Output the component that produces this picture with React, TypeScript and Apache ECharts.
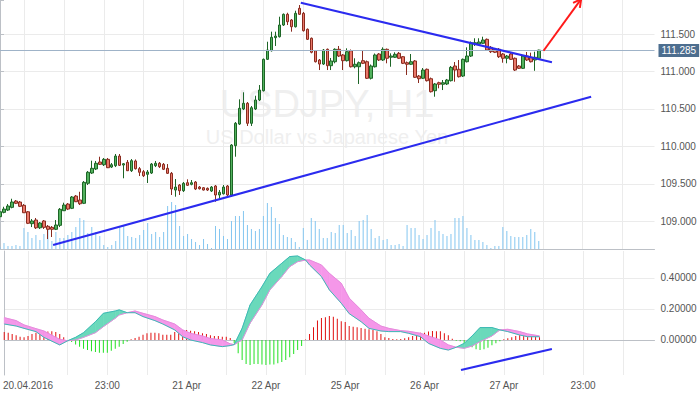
import React, { useEffect, useRef } from 'react';
import * as echarts from 'echarts';

// ---------- data ----------
const TOTAL_SLOTS = 165; // 136 candles + empty space on the right
const candleOpen = [
  109.061,109.119,109.150,109.186,109.270,109.257,109.213,109.127,108.968,109.017,
  108.913,109.004,108.933,108.919,108.893,108.946,109.141,109.230,109.173,109.337,
  109.284,109.240,109.507,109.644,109.698,109.791,109.755,109.827,109.724,109.742,
  109.871,109.751,109.787,109.675,109.805,109.702,109.662,109.627,109.644,109.742,
  109.774,109.760,109.707,109.640,109.417,109.484,109.408,109.515,109.493,109.524,
  109.457,109.448,109.440,109.404,109.471,109.351,109.367,109.471,109.351,110.009,
  110.298,110.499,110.575,110.308,110.499,110.619,110.743,111.162,111.277,111.451,
  111.464,111.620,111.763,111.687,111.597,111.843,111.776,111.563,111.443,111.277,
  111.153,111.099,111.296,111.077,111.130,111.296,111.220,111.144,111.277,111.063,
  111.063,111.144,111.130,110.909,111.063,111.233,111.153,111.296,111.190,111.189,
  111.242,111.197,111.117,111.096,111.140,110.939,110.909,111.029,110.903,110.743,
  110.850,110.829,110.833,110.877,111.073,111.029,110.939,111.130,111.206,111.367,
  111.367,111.376,111.429,111.322,111.296,111.296,111.233,111.176,111.233,111.176,
  111.073,111.042,111.206,111.189,111.153,111.176
];
const candleClose = [
  109.127,109.163,109.204,109.257,109.240,109.200,109.114,108.973,109.004,108.913,
  108.977,108.919,108.893,108.893,108.950,109.160,109.217,109.163,109.324,109.261,
  109.234,109.520,109.654,109.707,109.774,109.760,109.827,109.715,109.755,109.871,
  109.747,109.768,109.675,109.809,109.702,109.654,109.608,109.658,109.764,109.774,
  109.729,109.694,109.640,109.431,109.457,109.408,109.507,109.480,109.515,109.431,
  109.435,109.417,109.417,109.457,109.351,109.387,109.457,109.351,110.018,110.308,
  110.508,110.575,110.308,110.516,110.619,110.752,111.162,111.286,111.456,111.473,
  111.620,111.763,111.664,111.597,111.776,111.763,111.544,111.429,111.256,111.130,
  111.099,111.286,111.077,111.140,111.296,111.206,111.144,111.264,111.063,111.096,
  111.117,111.109,110.909,111.073,111.220,111.153,111.296,111.176,111.206,111.229,
  111.176,111.109,111.096,111.130,110.922,110.903,111.019,110.877,110.730,110.833,
  110.829,110.850,110.886,111.055,111.019,110.930,111.162,111.206,111.384,111.384,
  111.393,111.420,111.286,111.264,111.256,111.197,111.176,111.206,111.162,111.019,
  111.042,111.206,111.153,111.130,111.189,111.285
];
const candleLow = [
  109.030,109.106,109.137,109.173,109.230,109.190,109.110,108.963,108.923,108.897,
  108.897,108.897,108.763,108.790,108.883,108.923,109.137,109.150,109.163,109.257,
  109.217,109.230,109.484,109.631,109.684,109.751,109.738,109.711,109.711,109.724,
  109.738,109.574,109.671,109.658,109.691,109.604,109.591,109.511,109.631,109.724,
  109.711,109.684,109.631,109.351,109.328,109.351,109.391,109.471,109.480,109.417,
  109.424,109.411,109.404,109.391,109.261,109.300,109.358,109.337,109.324,109.862,
  110.285,110.485,110.272,110.272,110.485,110.605,110.732,111.153,111.266,111.340,
  111.453,111.607,111.620,111.531,111.587,111.754,111.533,111.420,111.242,111.120,
  111.019,111.086,111.019,111.019,111.109,111.193,111.019,111.133,111.053,111.042,
  110.833,111.099,110.899,110.893,111.053,111.140,111.140,111.109,111.063,111.180,
  111.166,111.099,110.953,111.086,110.913,110.846,110.899,110.866,110.719,110.663,
  110.775,110.752,110.819,110.866,110.863,110.919,110.926,111.120,111.193,111.340,
  111.353,111.367,111.273,111.246,111.246,111.180,111.117,111.109,111.153,111.006,
  111.033,111.033,111.140,111.120,111.009,111.166
];
const candleHigh = [
  109.163,109.194,109.230,109.301,109.284,109.270,109.230,109.137,109.030,109.044,
  108.990,109.017,108.950,108.937,109.017,109.177,109.248,109.244,109.337,109.351,
  109.394,109.537,109.671,109.809,109.805,109.862,109.845,109.845,109.778,109.898,
  109.898,109.778,109.818,109.831,109.825,109.724,109.684,109.684,109.778,109.805,
  109.791,109.778,109.764,109.658,109.564,109.497,109.524,109.560,109.551,109.537,
  109.471,109.457,109.451,109.471,109.484,109.417,109.484,109.484,110.031,110.325,
  110.628,110.722,110.592,110.539,110.676,110.819,111.173,111.397,111.531,111.531,
  111.731,111.774,111.784,111.700,111.811,111.887,111.794,111.574,111.453,111.286,
  111.166,111.300,111.306,111.180,111.309,111.340,111.233,111.309,111.293,111.176,
  111.133,111.277,111.146,111.093,111.240,111.246,111.322,111.306,111.242,111.256,
  111.260,111.206,111.133,111.233,111.153,110.953,111.046,111.039,110.919,110.846,
  110.863,110.886,110.900,111.073,111.126,111.153,111.173,111.322,111.400,111.443,
  111.443,111.464,111.440,111.340,111.313,111.313,111.246,111.220,111.246,111.186,
  111.086,111.220,111.260,111.251,111.264,111.290
];
const volume = [
  2,6,3,3,4,3,21,17,11,14,
  9,15,23,8,17,11,11,14,17,22,
  31,29,16,22,17,13,4,2,4,8,
  22,23,13,12,11,14,19,26,15,17,
  12,17,43,47,44,23,13,15,10,7,
  4,10,5,1,23,20,13,10,28,33,
  33,38,24,20,18,20,33,46,42,31,
  25,14,12,11,7,2,21,9,31,28,
  20,11,11,17,16,24,24,16,19,13,
  28,29,34,20,11,13,9,10,4,4,
  5,3,24,21,21,14,10,14,21,29,
  18,15,13,15,31,31,33,21,14,9,
  9,7,4,1,3,3,22,18,13,12,
  12,12,14,20,17,8
];
const macdHist = [
  0.052,0.047,0.039,0.030,0.021,0.017,0.026,0.039,0.047,0.052,
  0.054,0.054,0.056,0.052,0.039,0.017,-0.005,-0.013,-0.030,-0.043,
  -0.056,-0.065,-0.073,-0.077,-0.082,-0.082,-0.082,-0.069,-0.056,-0.043,
  -0.026,-0.011,0.005,0.013,0.021,0.034,0.043,0.047,0.047,0.043,
  0.034,0.034,0.034,0.052,0.060,0.065,0.065,0.060,0.056,0.052,
  0.043,0.039,0.030,0.026,0.026,0.021,0.021,0.013,-0.021,-0.086,
  -0.129,-0.155,-0.161,-0.155,-0.155,-0.159,-0.161,-0.159,-0.159,-0.150,
  -0.142,-0.129,-0.112,-0.090,-0.065,-0.039,0.003,0.039,0.082,0.125,
  0.142,0.146,0.155,0.150,0.137,0.121,0.116,0.090,0.086,0.082,
  0.077,0.073,0.069,0.065,0.056,0.039,0.017,0.013,0.006,0.005,
  0.006,0.011,0.017,0.026,0.039,0.047,0.047,0.054,0.058,0.056,
  0.056,0.043,0.030,0.008,-0.005,-0.008,-0.021,-0.032,-0.047,-0.060,
  -0.065,-0.060,-0.050,-0.034,-0.021,-0.008,0.005,0.011,0.017,0.026,
  0.032,0.032,0.028,0.026,0.021,0.017
];
const macdSampleIdx = [0,3,5,8,10,14,16,18,20,23,25,28,29,31,33,35,38,40,43,45,47,50,52,55,57,58,60,62,65,67,70,72,74,76,77,80,82,85,87,90,92,95,97,100,102,105,107,110,112,114,116,118,120,123,125,127,130,132,135];
const macdLine = [0.103,0.090,0.075,0.054,0.017,-0.032,-0.005,0.017,0.047,0.118,0.172,0.187,0.194,0.176,0.176,0.151,0.125,0.103,0.065,0.021,0.000,-0.017,-0.032,-0.043,-0.036,-0.030,0.075,0.226,0.344,0.430,0.495,0.538,0.542,0.516,0.484,0.409,0.323,0.237,0.170,0.118,0.075,0.058,0.054,0.054,0.043,0.021,-0.022,-0.054,-0.065,-0.047,-0.022,0.026,0.080,0.080,0.065,0.054,0.032,0.021,0.021];
const signalLine = [0.144,0.125,0.097,0.073,0.058,0.004,-0.005,0.000,0.017,0.047,0.086,0.140,0.161,0.176,0.187,0.172,0.151,0.129,0.103,0.065,0.043,0.026,0.009,0.000,-0.025,-0.030,0.000,0.108,0.226,0.323,0.409,0.473,0.505,0.516,0.516,0.484,0.430,0.366,0.270,0.194,0.140,0.090,0.075,0.060,0.056,0.043,0.026,0.000,-0.032,-0.047,-0.054,-0.039,-0.011,0.026,0.065,0.069,0.054,0.039,0.026];

const timeTickIndex = [6, 26, 46, 66, 86, 106, 126, 146];
const timeTickLabel = ['20.04.2016', '23:00', '21 Apr', '22 Apr', '25 Apr', '26 Apr', '27 Apr', '23:00'];
const priceTicks = [109.0, 109.5, 110.0, 110.5, 111.0, 111.5];
const macdTicks = [0, 0.2, 0.4];
const lastPrice = 111.285;
const priceMin = 108.630;
const priceMax = 111.954;
const volumeMax = 50;
const macdMin = -0.226;
const macdMax = 0.574;

// drawn trend lines, in [candle index, value]
const upperTrend = [[75.375, 111.918], [138.3, 111.122]];
const lowerTrend = [[13.3, 108.683], [148.125, 110.663]];
const arrowShaft = [[136.2, 111.277], [145.625, 111.967]];
const arrowHead = [[143.6, 111.915], [145.625, 111.967], [145.3, 111.849]];
const macdTrend = [[115.2, -0.1935], [138.125, -0.058]];

// ---------- styles ----------
const FONT = '"Liberation Sans", Arial, sans-serif';
const GRID_LINE = '#ebebeb';
const AXIS_LINE = '#bcc0c6';
const LABEL = '#555555';
const TEAL = '#6ad9bb';
const PINK = '#f597e9';
const BLUE = '#2b2bef';
const GRID_LEFT = -1.5;
const GRID_RIGHT = 45.5;

const categories = Array.from({ length: TOTAL_SLOTS }, (_, i) => String(i));
const isGridIdx = (i: number) => i >= 6 && (i - 6) % 10 === 0;

function buildOption(): any {
  const candleData = candleOpen.map((o, i) => [o, candleClose[i], candleLow[i], candleHigh[i]]);
  const fillData = macdSampleIdx.map((k, i) => [k, macdLine[i], signalLine[i]]);

  const poly = (pts: number[][], c: string) => ({
    type: 'polygon',
    shape: { points: pts },
    style: { fill: c, stroke: c, lineWidth: 0.6 },
  });

  const catAxis = (gridIndex: number, showLine: boolean, showLabel: boolean) => ({
    type: 'category',
    gridIndex,
    data: categories,
    boundaryGap: false,
    axisLine: { show: showLine, lineStyle: { color: AXIS_LINE } },
    axisTick: { show: false },
    axisLabel: {
      show: showLabel,
      interval: (i: number) => timeTickIndex.includes(i),
      formatter: (_v: string, i: number) => {
        const p = timeTickIndex.indexOf(i);
        return p >= 0 ? timeTickLabel[p] : '';
      },
      color: LABEL,
      fontSize: 10,
      margin: 5,
      fontFamily: FONT,
    },
    splitLine: {
      show: gridIndex !== 1,
      interval: (i: number) => isGridIdx(i),
      lineStyle: { color: GRID_LINE, width: 1 },
    },
  });

  const valX = (gridIndex: number) => ({
    type: 'value',
    gridIndex,
    min: 0,
    max: TOTAL_SLOTS - 1,
    show: false,
  });

  return {
    animation: false,
    textStyle: { fontFamily: FONT },
    grid: [
      { left: GRID_LEFT, right: GRID_RIGHT, top: 0, height: 249 },
      { left: GRID_LEFT, right: GRID_RIGHT, top: 199, height: 50 },
      { left: GRID_LEFT, right: GRID_RIGHT, top: 251, height: 124 },
    ],
    xAxis: [catAxis(0, true, false), catAxis(1, false, false), catAxis(2, true, true), valX(0), valX(2)],
    yAxis: [
      {
        type: 'value',
        gridIndex: 0,
        position: 'right',
        min: priceMin,
        max: priceMax,
        splitNumber: 6,
        axisLine: { show: true, lineStyle: { color: AXIS_LINE } },
        axisTick: { show: true, length: 4, lineStyle: { color: AXIS_LINE } },
        axisLabel: {
          color: LABEL,
          fontSize: 10,
          margin: 6,
          fontFamily: FONT,
          formatter: (v: number) => (priceTicks.some((t) => Math.abs(t - v) < 1e-6) ? v.toFixed(3) : ''),
        },
        splitLine: { show: true, showMinLine: false, showMaxLine: false, lineStyle: { color: GRID_LINE } },
      },
      { type: 'value', gridIndex: 1, min: 0, max: volumeMax, show: false },
      {
        type: 'value',
        gridIndex: 2,
        position: 'right',
        min: macdMin,
        max: macdMax,
        splitNumber: 4,
        axisLine: { show: true, lineStyle: { color: AXIS_LINE } },
        axisTick: { show: false },
        axisLabel: {
          color: LABEL,
          fontSize: 10,
          margin: 6,
          fontFamily: FONT,
          formatter: (v: number) => (macdTicks.some((t) => Math.abs(t - v) < 1e-6) ? v.toFixed(5) : ''),
        },
        splitLine: { show: false },
      },
    ],
    graphic: [
      {
        type: 'text',
        x: 327,
        y: 104,
        z: -10,
        silent: true,
        style: { text: 'USDJPY, H1', fontSize: 38, fontFamily: FONT, fill: '#efefef', align: 'center', verticalAlign: 'middle' },
      },
      {
        type: 'text',
        x: 327,
        y: 137,
        z: -10,
        silent: true,
        style: { text: 'US Dollar vs Japanese Yen', fontSize: 20, fontFamily: FONT, fill: '#efefef', align: 'center', verticalAlign: 'middle' },
      },
    ],
    series: [
      {
        name: 'volume',
        type: 'bar',
        xAxisIndex: 1,
        yAxisIndex: 1,
        data: volume,
        barWidth: 1,
        itemStyle: { color: '#84c6f0' },
        silent: true,
        z: 1,
      },
      {
        name: 'USDJPY',
        type: 'candlestick',
        xAxisIndex: 0,
        yAxisIndex: 0,
        data: candleData,
        barWidth: 3,
        itemStyle: {
          color: '#52b25e',
          color0: '#e9786a',
          borderColor: '#1d6526',
          borderColor0: '#8a2b1f',
          borderWidth: 1,
        },
        z: 3,
        markLine: {
          silent: true,
          symbol: ['none', 'none'],
          data: [{ yAxis: lastPrice }],
          lineStyle: { color: '#9fb3c8', width: 1, type: 'solid' },
          label: {
            show: true,
            position: 'end',
            formatter: lastPrice.toFixed(3),
            color: '#ffffff',
            backgroundColor: '#4d6e8f',
            padding: [2, 3, 1, 3],
            fontSize: 10,
            fontFamily: FONT,
            distance: 4,
          },
        },
      },
      {
        name: 'upper trend',
        type: 'line',
        xAxisIndex: 3,
        yAxisIndex: 0,
        data: upperTrend,
        symbol: 'none',
        lineStyle: { color: BLUE, width: 2 },
        silent: true,
        z: 5,
      },
      {
        name: 'lower trend',
        type: 'line',
        xAxisIndex: 3,
        yAxisIndex: 0,
        data: lowerTrend,
        symbol: 'none',
        lineStyle: { color: BLUE, width: 2 },
        silent: true,
        z: 5,
      },
      {
        name: 'arrow shaft',
        type: 'line',
        xAxisIndex: 3,
        yAxisIndex: 0,
        data: arrowShaft,
        symbol: 'none',
        clip: false,
        lineStyle: { color: '#ff1a1a', width: 2 },
        silent: true,
        z: 5,
      },
      {
        name: 'arrow head',
        type: 'line',
        xAxisIndex: 3,
        yAxisIndex: 0,
        data: arrowHead,
        symbol: 'none',
        clip: false,
        lineStyle: { color: '#ff1a1a', width: 2 },
        silent: true,
        z: 5,
      },
      {
        name: 'histogram',
        type: 'bar',
        xAxisIndex: 2,
        yAxisIndex: 2,
        data: macdHist,
        barWidth: 1,
        itemStyle: { color: (p: any) => (p.value >= 0 ? '#e01010' : '#22e022') },
        silent: true,
        z: 2,
        markLine: {
          silent: true,
          symbol: ['none', 'none'],
          label: { show: false },
          lineStyle: { color: GRID_LINE, width: 1, type: 'solid' },
          data: macdTicks.map((t) => ({ yAxis: t })),
          z: 0,
        },
      },
      {
        name: 'macd fill',
        type: 'custom',
        xAxisIndex: 4,
        yAxisIndex: 2,
        data: fillData,
        encode: { x: 0, y: [1, 2] },
        silent: true,
        z: 3,
        renderItem: (params: any, api: any) => {
          const i = params.dataIndex;
          if (i >= macdSampleIdx.length - 1) return null;
          const k0 = macdSampleIdx[i], k1 = macdSampleIdx[i + 1];
          const a0 = macdLine[i], a1 = macdLine[i + 1];
          const b0 = signalLine[i], b1 = signalLine[i + 1];
          const d0 = a0 - b0, d1 = a1 - b1;
          const P = (k: number, v: number) => api.coord([k, v]);
          const col = (d: number) => (d >= 0 ? TEAL : PINK);
          const children: any[] = [];
          if (d0 * d1 < 0) {
            const t = d0 / (d0 - d1);
            const kc = k0 + t * (k1 - k0);
            const vc = a0 + t * (a1 - a0);
            children.push(poly([P(k0, a0), P(kc, vc), P(k0, b0)], col(d0)));
            children.push(poly([P(kc, vc), P(k1, a1), P(k1, b1)], col(d1)));
          } else {
            const d = Math.abs(d0) > Math.abs(d1) ? d0 : d1;
            children.push(poly([P(k0, a0), P(k1, a1), P(k1, b1), P(k0, b0)], col(d)));
          }
          return { type: 'group', children };
        },
      },
      {
        name: 'signal',
        type: 'line',
        xAxisIndex: 4,
        yAxisIndex: 2,
        data: macdSampleIdx.map((k, i) => [k, signalLine[i]]),
        symbol: 'none',
        lineStyle: { color: '#e58bdc', width: 1 },
        silent: true,
        z: 4,
      },
      {
        name: 'macd',
        type: 'line',
        xAxisIndex: 4,
        yAxisIndex: 2,
        data: macdSampleIdx.map((k, i) => [k, macdLine[i]]),
        symbol: 'none',
        lineStyle: { color: '#3cb9b4', width: 1 },
        silent: true,
        z: 4,
      },
      {
        name: 'macd trend',
        type: 'line',
        xAxisIndex: 4,
        yAxisIndex: 2,
        data: macdTrend,
        symbol: 'none',
        lineStyle: { color: BLUE, width: 2 },
        silent: true,
        z: 5,
      },
    ],
  };
}

export default function App() {
  const ref = useRef<HTMLDivElement>(null);
  useEffect(() => {
    if (!ref.current) return;
    const chart = echarts.init(ref.current, null, { renderer: 'svg' });
    chart.setOption(buildOption());
    return () => chart.dispose();
  }, []);
  return <div ref={ref} style={{ position: 'fixed', left: 0, top: 0, width: 700, height: 394, background: '#fff' }} />;
}
